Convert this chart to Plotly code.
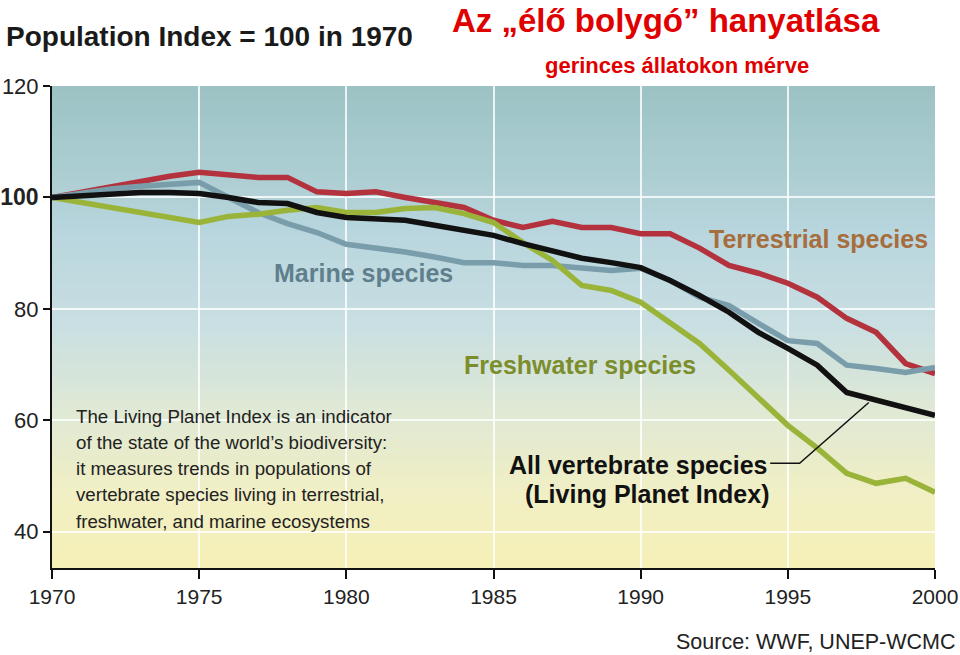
import plotly.graph_objects as go

# ---------------- data ----------------
years = list(range(1970, 2001))

terrestrial = [100, 101.0, 102.0, 103.0, 103.8, 104.5, 104.0, 103.6, 103.6, 101.0,
               100.7, 101.0, 100.0, 99.0, 98.2, 95.9, 94.6, 95.7, 94.6, 94.6,
               93.5, 93.5, 90.9, 87.8, 86.4, 84.6, 82.1, 78.3, 75.8, 70.2, 68.4]

marine = [100, 100.8, 101.5, 102.0, 102.4, 102.7, 100.0, 97.3, 95.3, 93.7,
          91.6, 91.0, 90.2, 89.3, 88.3, 88.3, 87.8, 87.8, 87.3, 86.9,
          87.3, 85.1, 82.1, 80.6, 77.4, 74.3, 73.8, 69.9, 69.3, 68.6, 69.5]

freshwater = [100, 99.1, 98.2, 97.3, 96.4, 95.5, 96.6, 97.0, 97.7, 98.2,
              97.3, 97.3, 98.0, 98.2, 97.1, 95.5, 91.9, 88.7, 84.2, 83.3,
              81.2, 77.4, 73.8, 69.0, 64.1, 59.1, 55.0, 50.5, 48.7, 49.6, 47.1]

all_vertebrate = [100, 100.3, 100.6, 100.9, 100.9, 100.7, 100.0, 99.1, 98.9, 97.3,
                  96.4, 96.2, 95.9, 95.0, 94.1, 93.2, 91.7, 90.5, 89.1, 88.3,
                  87.4, 85.1, 82.4, 79.4, 75.8, 72.9, 69.9, 65.0, 63.6, 62.2, 60.9]

x_ticks = [1970, 1975, 1980, 1985, 1990, 1995, 2000]
x_tick_labels = ["1970", "1975", "1980", "1985", "1990", "1995", "2000"]
y_ticks = [40, 60, 80, 100, 120]
y_tick_labels = ["40", "60", "80", '<span style="font-size:23px"><b>100</b></span>', "120"]

paragraph_lines = [
    "The Living Planet Index is an indicator",
    "of the state of the world\u2019s biodiversity:",
    "it measures trends in populations of",
    "vertebrate species living in terrestrial,",
    "freshwater, and marine ecosystems",
]

# ---------------- layout geometry ----------------
W, H = 960, 655
L, R, T, B = 52, 25, 86, 87
PW, PH = W - L - R, H - T - B

def px(x):
    return (x - L) / PW

def py(y):
    return (H - B - y) / PH

FONT = "Liberation Sans, Arial, sans-serif"

fig = go.Figure()

series = [
    ("Terrestrial species", terrestrial, "#b3323d"),
    ("Marine species", marine, "#7a9dab"),
    ("Freshwater species", freshwater, "#9ab43a"),
    ("All vertebrate species", all_vertebrate, "#111111"),
]
for name, vals, col in series:
    fig.add_trace(go.Scatter(x=years, y=vals, mode="lines", name=name,
                             line=dict(color=col, width=5.5), showlegend=False))

# leader line from label to black line
fig.add_trace(go.Scatter(x=[1994.4, 1995.4, 1997.75], y=[52.3, 52.3, 63.2],
                         mode="lines", line=dict(color="#111111", width=1.5),
                         showlegend=False, hoverinfo="skip"))

# ---------------- gradient background ----------------
stops = [
    (0.00, (246, 240, 182)),
    (0.15, (241, 239, 196)),
    (0.32, (224, 233, 212)),
    (0.50, (201, 223, 226)),
    (0.68, (186, 214, 222)),
    (0.82, (172, 206, 210)),
    (1.00, (156, 194, 196)),
]

def col_at(t):
    for (t0, c0), (t1, c1) in zip(stops[:-1], stops[1:]):
        if t0 <= t <= t1:
            f = (t - t0) / (t1 - t0)
            return "rgb(%d,%d,%d)" % tuple(round(a + (b - a) * f) for a, b in zip(c0, c1))
    return "rgb(%d,%d,%d)" % stops[-1][1]

n = 90
shapes = []
for i in range(n):
    y0 = i / n
    y1 = (i + 1) / n + 0.002
    shapes.append(dict(type="rect", xref="paper", yref="paper", x0=0, x1=1,
                       y0=y0, y1=min(y1, 1), line=dict(width=0),
                       fillcolor=col_at((i + 0.5) / n), layer="below"))

# ---------------- annotations ----------------
ann = []
ann.append(dict(text="<b>Population Index = 100 in 1970</b>", x=px(4), y=py(37),
                xanchor="left", yanchor="middle", font=dict(size=28, color="#1a1a1a", family=FONT)))
ann.append(dict(text="<b>Az \u201e\u00e9l\u0151 bolyg\u00f3\u201d hanyatl\u00e1sa</b>", x=px(666), y=py(20),
                xanchor="center", yanchor="middle", font=dict(size=33, color="#e00000", family=FONT)))
ann.append(dict(text="<b>gerinces \u00e1llatokon m\u00e9rve</b>", x=px(677), y=py(66),
                xanchor="center", yanchor="middle", font=dict(size=22, color="#e00000", family=FONT)))
ann.append(dict(text="<b>Terrestrial species</b>", x=px(930), y=py(239),
                xanchor="right", yanchor="middle", font=dict(size=25, color="#a66d3d", family=FONT)))
ann.append(dict(text="<b>Marine species</b>", x=px(272), y=py(273),
                xanchor="left", yanchor="middle", font=dict(size=25, color="#5f7f8d", family=FONT)))
ann.append(dict(text="<b>Freshwater species</b>", x=px(462), y=py(365),
                xanchor="left", yanchor="middle", font=dict(size=25, color="#7c8e2c", family=FONT)))
ann.append(dict(text="<b>All vertebrate species</b>", x=px(769), y=py(465),
                xanchor="right", yanchor="middle", font=dict(size=25, color="#111111", family=FONT)))
ann.append(dict(text="<b>(Living Planet Index)</b>", x=px(771), y=py(494),
                xanchor="right", yanchor="middle", font=dict(size=25, color="#111111", family=FONT)))
for i, line in enumerate(paragraph_lines):
    ann.append(dict(text=line, x=px(74), y=py(416 + i * 26.3),
                    xanchor="left", yanchor="middle", font=dict(size=18.7, color="#222222", family=FONT)))
ann.append(dict(text="Source: WWF, UNEP-WCMC", x=px(958), y=py(642),
                xanchor="right", yanchor="middle", font=dict(size=21.5, color="#222222", family=FONT)))
for a in ann:
    a.update(xref="paper", yref="paper", showarrow=False)

fig.update_layout(
    width=W, height=H,
    margin=dict(l=L, r=R, t=T, b=B, pad=0),
    paper_bgcolor="white",
    plot_bgcolor="rgba(0,0,0,0)",
    shapes=shapes,
    annotations=ann,
    font=dict(family=FONT, color="#222222"),
    xaxis=dict(range=[1970, 2000], tickvals=x_ticks, ticktext=x_tick_labels,
               showgrid=True, gridcolor="rgba(255,255,255,0.8)", gridwidth=2,
               showline=True, linecolor="#111111", linewidth=2,
               ticks="outside", ticklen=9, tickwidth=2, tickcolor="#111111",
               tickfont=dict(size=21, color="#222222", family=FONT),
               zeroline=False, fixedrange=True, automargin=False),
    yaxis=dict(range=[33.5, 120], tickvals=y_ticks, ticktext=y_tick_labels,
               showgrid=True, gridcolor="rgba(255,255,255,0.8)", gridwidth=2,
               showline=True, linecolor="#111111", linewidth=2,
               ticks="outside", ticklen=7, tickwidth=2, tickcolor="#111111",
               tickfont=dict(size=22, color="#222222", family=FONT),
               zeroline=False, fixedrange=True, automargin=False),
)

fig.write_html("out.html", config={"displayModeBar": False},
               post_script="document.body.style.margin='0';document.body.style.padding='0';")
